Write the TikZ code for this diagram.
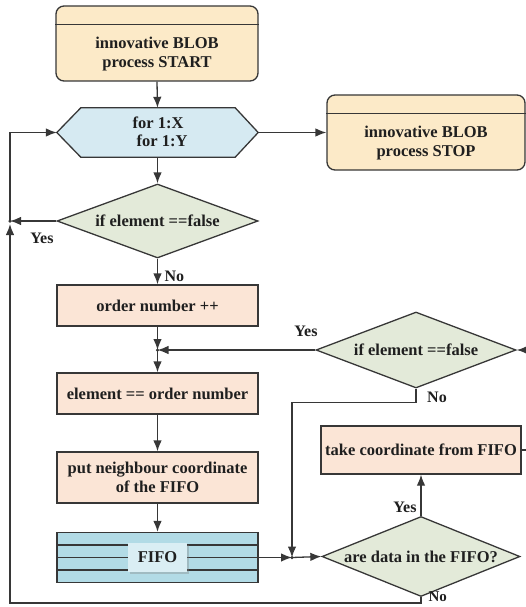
\documentclass[tikz,border=0pt]{standalone}
\usepackage{fontspec}
\setmainfont{Liberation Serif}
\usetikzlibrary{arrows.meta,shapes.geometric,shadows,calc}
\definecolor{lc}{RGB}{55,55,55}
\definecolor{yel}{RGB}{252,234,200}
\definecolor{hexblue}{RGB}{214,234,242}
\definecolor{dgreen}{RGB}{227,234,217}
\definecolor{peach}{RGB}{251,229,214}
\definecolor{fifoblue}{RGB}{178,219,230}
\definecolor{fifolight}{RGB}{218,238,244}
\begin{document}
\begin{tikzpicture}[x=1pt,y=-1pt,
  every node/.style={font=\fontsize{16.5}{19}\selectfont\bfseries, text=black!88},
  line/.style={draw=lc, line width=1.3pt},
  arr/.style={line, -{Latex[length=11pt,width=8.5pt]}},
  termbox/.style={draw=lc, line width=1.3pt, fill=yel, rounded corners=8pt, minimum width=202pt, minimum height=75pt, inner sep=0pt},
  procbox/.style={draw=lc, line width=1.3pt, fill=peach, minimum width=201pt, inner sep=0pt, align=center},
  decision/.style={diamond, draw=lc, line width=1.3pt, fill=dgreen, inner sep=0pt, minimum width=201pt, minimum height=75pt},
  lbl/.style={font=\fontsize{16}{18}\selectfont\bfseries},
  jdot/.style={circle, fill=lc, inner sep=0pt, minimum size=3.5pt}]
\useasboundingbox (0,0) rectangle (526,607);

% START terminal
\node[termbox] (start) at (157,43.5) {};
\draw[line] ($(start.north west)+(0,19)$) -- ($(start.north east)+(0,19)$);
\node[align=center] (starttxt) at (157,54) {innovative BLOB\\process START};

% loop hexagon
\node[minimum width=201pt, minimum height=49pt, inner sep=0pt] (loop) at (157.5,132.5) {};
\draw[line, fill=hexblue] (loop.west) -- ($(loop.north west)+(24,0)$) -- ($(loop.north east)+(-23,0)$)
  -- (loop.east) -- ($(loop.south east)+(-23,0)$) -- ($(loop.south west)+(24,0)$) -- cycle;
\node[align=left, font=\fontsize{16.5}{17.5}\selectfont\bfseries] (looptxt) at (160,132) {for 1:X\\\hspace{4pt}for 1:Y};

% STOP terminal
\node[termbox, minimum width=198pt] (stop) at (426,132.5) {};
\draw[line] ($(stop.north west)+(0,19)$) -- ($(stop.north east)+(0,19)$);
\node[align=center] (stoptxt) at (426,143) {innovative BLOB\\process STOP};

% decisions and processes
\node[decision, minimum height=74pt, aspect=2.7] (d1) at (157.5,221) {if element ==false};
\node[procbox, minimum height=41pt] (order) at (157.5,305.5) {order number ++};
\node[procbox, minimum height=41pt] (elem) at (157.5,393.5) {element == order number};
\node[procbox, minimum height=51pt] (put) at (157.5,477.5) {put neighbour coordinate\\of the FIFO};
\node[draw=lc, line width=1.3pt, fill=fifoblue, minimum width=201pt, minimum height=50pt, inner sep=0pt] (fifo) at (157.5,557.5) {};
\draw[line] ($(fifo.west)+(0,-12.5)$) -- ($(fifo.east)+(0,-12.5)$);
\draw[line] (fifo.west) -- (fifo.east);
\draw[line] ($(fifo.west)+(0,12.5)$) -- ($(fifo.east)+(0,12.5)$);
\node[fill=fifolight, minimum width=59pt, minimum height=29pt, inner sep=0pt,
      drop shadow={opacity=0.35, shadow xshift=1.5pt, shadow yshift=-2pt}] (fifolbl) at (fifo.center) {FIFO};

\node[decision, minimum width=200pt, minimum height=76pt, aspect=2.63] (d2) at (416,350) {if element ==false};
\node[procbox, minimum width=200pt, minimum height=48pt] (take) at (421,450) {take coordinate from FIFO};
\node[decision, minimum width=198pt, minimum height=80pt, aspect=2.48] (d3) at (421,556.5) {are data in the FIFO?};

% junctions
\coordinate (jy) at (10,221);
\coordinate (bl) at (10,603);
\coordinate (j1) at (157.5,350);
\coordinate (j2) at (292,557.5);

% connectors
\draw[arr] (start.south) -- (loop.north);
\draw[arr] (loop.south) -- (d1.north);
\draw[arr] (loop.east) -- (stop.west);
\draw[arr] (d1.west) -- (jy);
\draw[arr] (d3.south) |- (bl) -- ($(jy)+(0,3)$);
\draw[arr] (jy) |- (loop.west);
\draw[arr] (d1.south) -- (order.north);
\draw[arr] (order.south) -- (j1);
\draw[arr] (d2.west) -- (j1);
\draw[arr] (j1) -- (elem.north);
\draw[arr] (elem.south) -- (put.north);
\draw[arr] (put.south) -- (fifo.north);
\draw[arr] (fifo.east) -- (j2);
\draw[arr] (d2.south) -- ++(0,14) -| (j2);
\draw[arr] (j2) -- (d3.west);
\draw[arr] (d3.north) -- (take.south);
\draw[arr] (take.east) -- ++(12,0) |- (d2.east);

\node[jdot] (jyd) at (jy) {};
\node[jdot] (j1d) at (j1) {};
\node[jdot] (j2d) at (j2) {};

% labels
\node[lbl] (l1) at (42,238) {Yes};
\node[lbl, anchor=west] (l2) at (161,276) {No};
\node[lbl] (l3) at (306,331) {Yes};
\node[lbl] (l4) at (437,397) {No};
\node[lbl] (l5) at (405,507) {Yes};
\node[lbl, anchor=west, font=\fontsize{15}{17}\selectfont\bfseries] (l6) at (425,597) {No};
\end{tikzpicture}
\end{document}
